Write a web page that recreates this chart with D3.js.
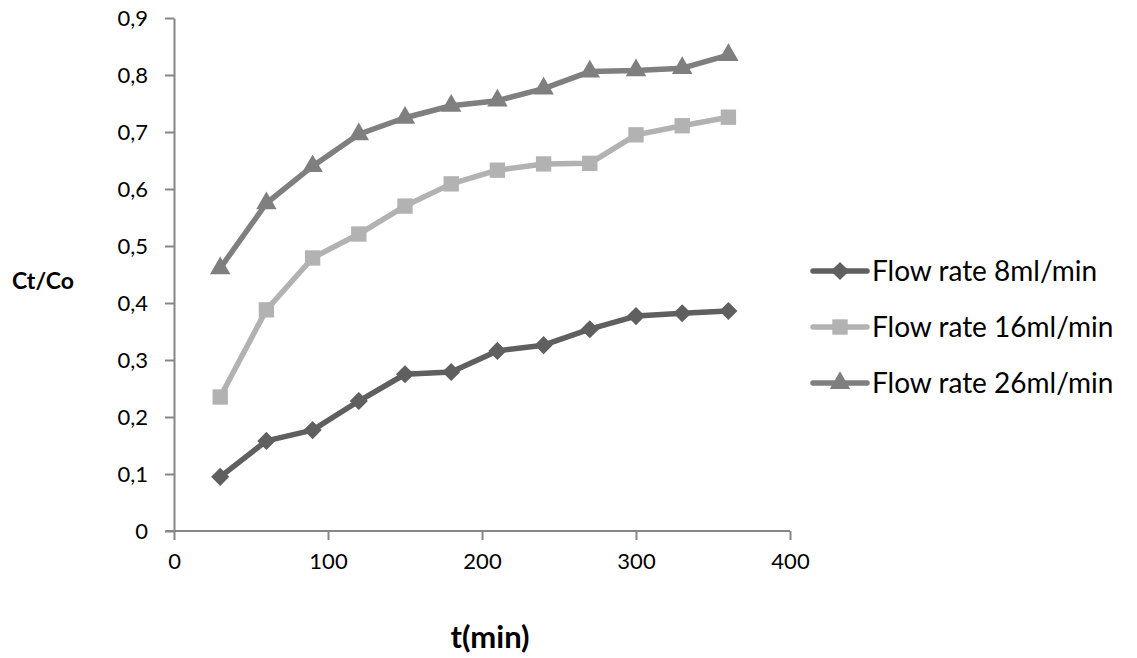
<!DOCTYPE html>
<html><head><meta charset="utf-8">
<script src="https://cdn.jsdelivr.net/npm/d3@7"></script>
<style>body{margin:0;background:#fff}svg{display:block}text{font-family:Lato,"Open Sans",sans-serif}</style>
</head><body>
<svg id="c" width="1137" height="658"></svg>
<script>
const times = [30,60,90,120,150,180,210,240,270,300,330,360];
const flow8 = [0.095,0.158,0.177,0.228,0.275,0.279,0.316,0.326,0.354,0.377,0.382,0.386];
const flow16 = [0.235,0.388,0.479,0.521,0.570,0.609,0.633,0.644,0.645,0.695,0.711,0.726];
const flow26 = [0.461,0.575,0.640,0.696,0.725,0.746,0.755,0.776,0.806,0.808,0.812,0.835];
const seriesNames = ["Flow rate 8ml/min","Flow rate 16ml/min","Flow rate 26ml/min"];
const xTicks = [0,100,200,300,400];
const yTicks = [0,0.1,0.2,0.3,0.4,0.5,0.6,0.7,0.8,0.9];

const series = [
  {name:seriesNames[0], values:flow8, color:"#5f5f5f", shape:d3.symbolDiamond2, size:210},
  {name:seriesNames[1], values:flow16, color:"#b2b2b2", shape:d3.symbolSquare2, size:300},
  {name:seriesNames[2], values:flow26, color:"#7f7f7f", shape:d3.symbolTriangle2, size:300}
];

const svg = d3.select("#c");
const x = d3.scaleLinear().domain([0,400]).range([174,790]);
const y = d3.scaleLinear().domain([0,0.9]).range([531,18]);
const axisColor = "#868686";
const fmt = d => d3.format(".1f")(d).replace(".",",");

const gx = svg.append("g").attr("transform","translate(0,531)")
  .call(d3.axisBottom(x).tickValues(xTicks).tickSize(9).tickSizeOuter(0).tickPadding(13));
gx.select(".domain").attr("stroke",axisColor).attr("stroke-width",2).attr("d","M166,0H790");
gx.selectAll(".tick line").attr("stroke",axisColor).attr("stroke-width",2);
gx.selectAll(".tick text").attr("font-size",22).attr("fill","#000");

const gy = svg.append("g").attr("transform","translate(174,0)")
  .call(d3.axisLeft(y).tickValues(yTicks).tickFormat(d => d===0 ? "0" : fmt(d)).tickSize(9).tickSizeOuter(0).tickPadding(17));
gy.select(".domain").attr("stroke",axisColor).attr("stroke-width",2);
gy.selectAll(".tick line").attr("stroke",axisColor).attr("stroke-width",2);
gy.selectAll(".tick text").attr("font-size",22).attr("fill","#000");

const line = d3.line().x((d,i)=>x(times[i])).y(d=>y(d));
series.forEach(s=>{
  svg.append("path").attr("d",line(s.values)).attr("fill","none")
    .attr("stroke",s.color).attr("stroke-width",5.5).attr("stroke-linejoin","round");
  svg.selectAll(null).data(s.values).enter().append("path")
    .attr("d",d3.symbol().type(s.shape).size(s.size))
    .attr("transform",(d,i)=>`translate(${x(times[i])},${y(d)})`)
    .attr("fill",s.color);
});

// legend
series.forEach((s,i)=>{
  const ly = 271 + i*56;
  svg.append("line").attr("x1",813).attr("x2",867).attr("y1",ly).attr("y2",ly)
    .attr("stroke",s.color).attr("stroke-width",5.5).attr("stroke-linecap","round");
  svg.append("path").attr("d",d3.symbol().type(s.shape).size(s.size)).attr("transform",`translate(840,${ly})`).attr("fill",s.color);
  svg.append("text").attr("x",872).attr("y",ly).attr("dy","0.35em").attr("font-size",28).attr("fill","#000").text(s.name);
});

svg.append("text").attr("x",43).attr("y",281).attr("dy","0.35em").attr("text-anchor","middle")
  .attr("font-size",23).attr("font-weight","bold").text("Ct/Co");
svg.append("text").attr("x",490).attr("y",637).attr("dy","0.35em").attr("text-anchor","middle")
  .attr("font-size",31).attr("font-weight","bold").text("t(min)");
</script>
</body></html>
